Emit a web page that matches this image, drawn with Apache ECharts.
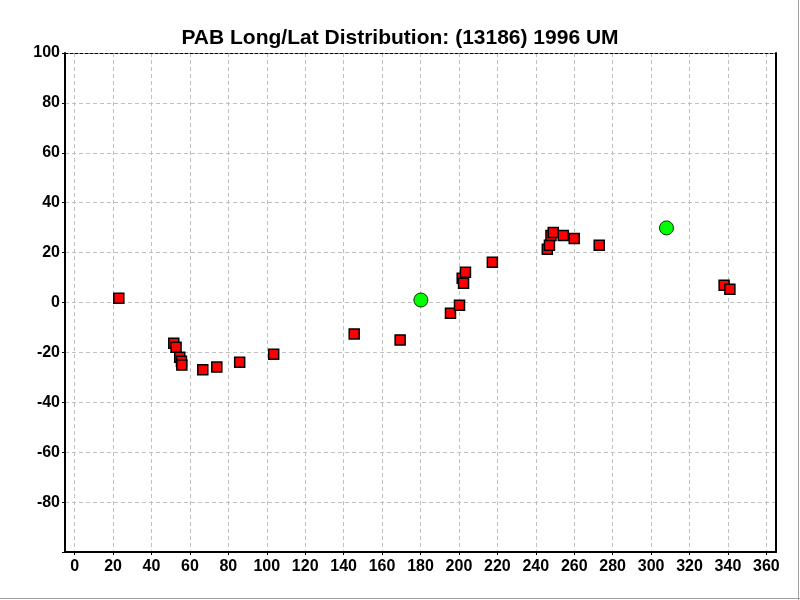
<!DOCTYPE html>
<html>
<head>
<meta charset="utf-8">
<script src="https://cdn.jsdelivr.net/npm/echarts@6/dist/echarts.min.js"></script>
<style>html,body{margin:0;padding:0;background:#fff;}#c{width:800px;height:600px;}</style>
</head>
<body>
<div id="c"></div>
<script>
const titleText = "PAB Long/Lat Distribution: (13186) 1996 UM";
const xTicks = [0,20,40,60,80,100,120,140,160,180,200,220,240,260,280,300,320,340,360];
const yTicks = [-80,-60,-40,-20,0,20,40,60,80,100];
// red squares: [longitude, latitude]
const redLon = [23.0, 51.6, 52.8, 54.7, 55.6, 55.8, 66.7, 74.0, 85.9, 103.6, 145.5, 169.4, 195.6, 200.3, 201.7, 202.4, 203.4, 217.4, 246.0, 247.1, 247.9, 249.1, 254.3, 260.0, 273.0, 338.0, 341.0];
const redLat = [1.7, -16.3, -17.9, -21.9, -23.5, -25.1, -27.0, -25.9, -23.9, -20.7, -12.6, -15.0, -4.3, -1.1, 9.7, 7.7, 12.1, 16.1, 21.3, 22.9, 26.9, 28.1, 26.9, 25.7, 22.9, 6.9, 5.3];
// green circles
const greenLon = [180.2, 308.0];
const greenLat = [1.0, 29.9];

const red = redLon.map((x, i) => [x, redLat[i]]);
const green = greenLon.map((x, i) => [x, greenLat[i]]);

const chart = echarts.init(document.getElementById('c'), null, {renderer: 'canvas'});
const labelFont = {fontFamily: 'Liberation Sans, Arial, sans-serif', fontWeight: 'bold', fontSize: 16, color: '#000'};
chart.setOption({
  backgroundColor: '#fff',
  animation: false,
  title: {
    text: titleText, left: 'center', top: 23,
    textStyle: {fontFamily: 'Liberation Sans, Arial, sans-serif', fontWeight: 'bold', fontSize: 21, color: '#000'}
  },
  graphic: [
    {type: 'line', silent: true, shape: {x1: 798.5, y1: 0, x2: 798.5, y2: 600}, style: {stroke: '#a0a0a0', lineWidth: 1}},
    {type: 'line', silent: true, shape: {x1: 0, y1: 598.5, x2: 800, y2: 598.5}, style: {stroke: '#a0a0a0', lineWidth: 1}}
  ],
  grid: {left: 65, right: 24, top: 53, bottom: 48, containLabel: false},
  xAxis: [{
    type: 'value', min: -5, max: 365, position: 'bottom',
    axisLine: {show: true, onZero: false, lineStyle: {color: '#000', width: 2}},
    axisTick: {show: true, length: 3, customValues: xTicks, lineStyle: {color: '#000'}},
    axisLabel: Object.assign({customValues: xTicks, margin: 7}, labelFont),
    splitLine: {show: true, lineStyle: {color: '#c0c0c0', type: [4, 3], width: 1}}
  }, {
    type: 'value', min: -5, max: 365, position: 'top',
    axisLine: {show: true, onZero: false, lineStyle: {color: '#000', type: [3, 2], width: 1}},
    axisTick: {show: false}, axisLabel: {show: false}, splitLine: {show: false}
  }],
  yAxis: [{
    type: 'value', min: -100, max: 100, interval: 20, position: 'left',
    axisLine: {show: true, onZero: false, lineStyle: {color: '#000', width: 2}},
    axisTick: {show: true, length: 3, lineStyle: {color: '#000'}},
    axisLabel: Object.assign({margin: 5, formatter: v => (yTicks.indexOf(v) >= 0 ? String(v) : '')}, labelFont),
    splitLine: {show: true, lineStyle: {color: '#c0c0c0', type: [4, 3], width: 1}}
  }, {
    type: 'value', min: -100, max: 100, interval: 20, position: 'right',
    axisLine: {show: true, onZero: false, lineStyle: {color: '#000', width: 2}},
    axisTick: {show: false}, axisLabel: {show: false}, splitLine: {show: false}
  }],
  series: [{
    type: 'scatter', data: red, symbol: 'rect', symbolSize: 10,
    itemStyle: {color: '#ff0000', borderColor: '#000', borderWidth: 1.5, opacity: 1}
  }, {
    type: 'scatter', data: green, symbol: 'circle', symbolSize: 14,
    itemStyle: {color: '#00ff00', borderColor: '#003300', borderWidth: 1, opacity: 1}
  }]
});
</script>
</body>
</html>
